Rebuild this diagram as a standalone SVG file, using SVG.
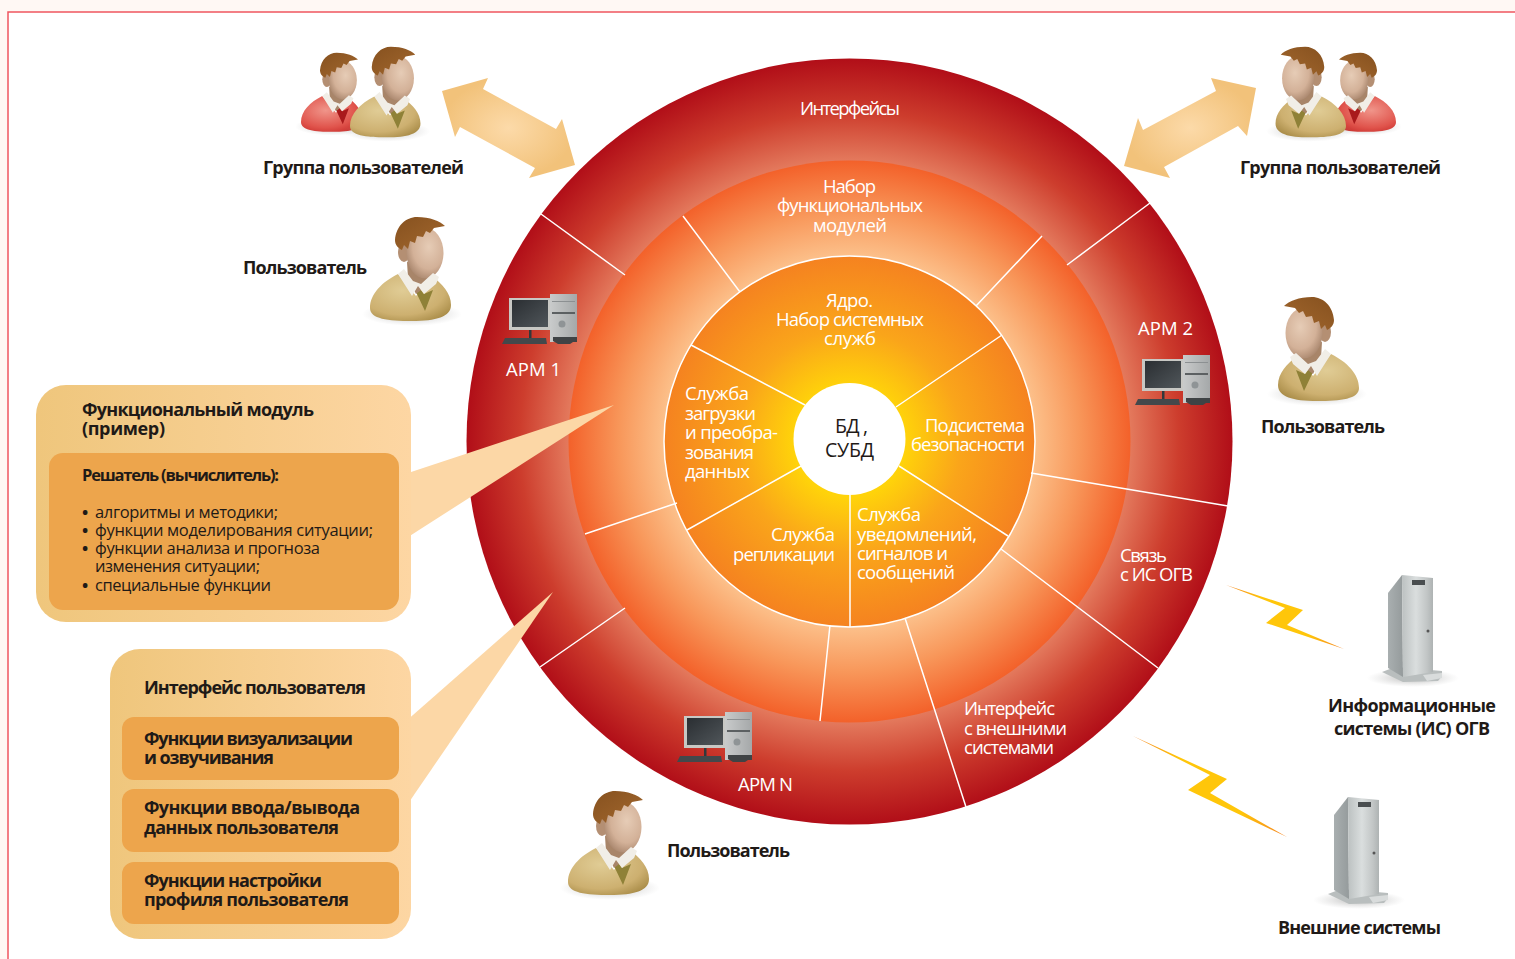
<svg xmlns="http://www.w3.org/2000/svg" width="1515" height="959" viewBox="0 0 1515 959">
<style>
text{font-family:"Open Sans","Noto Sans","Liberation Sans",sans-serif}
.w{fill:#fff;font-size:18.5px}
.k{fill:#1f1a17;font-weight:700;font-size:18px}
.t{fill:#1f1a17;font-size:16.5px}
.d{stroke:#fff;stroke-width:1.5;fill:none}
</style>
<defs>
<radialGradient id="gOuter" gradientUnits="userSpaceOnUse" cx="849.5" cy="441.5" r="383"><stop offset=".73" stop-color="#e47b5e"/><stop offset=".86" stop-color="#cd3d2d"/><stop offset="1" stop-color="#b10e18"/></radialGradient>
<radialGradient id="gMid" gradientUnits="userSpaceOnUse" cx="849.5" cy="441.5" r="281"><stop offset=".66" stop-color="#fcc08a"/><stop offset=".82" stop-color="#f8975a"/><stop offset="1" stop-color="#f3612a"/></radialGradient>
<radialGradient id="gIn" gradientUnits="userSpaceOnUse" cx="849.5" cy="441.5" r="186"><stop offset=".3" stop-color="#ffd30a"/><stop offset=".6" stop-color="#faa51a"/><stop offset="1" stop-color="#f58220"/></radialGradient>
<linearGradient id="gBox" x1="0" x2="1" y1="0" y2="0"><stop offset="0" stop-color="#efc67c"/><stop offset="1" stop-color="#fdd6a3"/></linearGradient>
<radialGradient id="gArrow"><stop offset="0" stop-color="#fcdaa9"/><stop offset="1" stop-color="#f2c27a"/></radialGradient>
<linearGradient id="gBolt" x1="0" x2="1" y1="0" y2="0"><stop offset="0" stop-color="#f58220"/><stop offset=".3" stop-color="#ffc60a"/><stop offset=".7" stop-color="#ffc60a"/><stop offset="1" stop-color="#f58220"/></linearGradient>
<radialGradient id="gFace" cx=".6" cy=".38" r=".72"><stop offset="0" stop-color="#e6ccb6"/><stop offset=".6" stop-color="#d3b198"/><stop offset="1" stop-color="#a07d64"/></radialGradient>
<linearGradient id="gHair" x1="0" x2="1" y1="0" y2="1"><stop offset="0" stop-color="#86511f"/><stop offset="1" stop-color="#a3682e"/></linearGradient>
<radialGradient id="gTan" cx=".4" cy=".35" r=".8"><stop offset="0" stop-color="#e0cc95"/><stop offset=".65" stop-color="#cdb070"/><stop offset="1" stop-color="#a1843f"/></radialGradient>
<radialGradient id="gRed" cx=".4" cy=".4" r=".8"><stop offset="0" stop-color="#f0958a"/><stop offset=".6" stop-color="#e0544c"/><stop offset="1" stop-color="#c0201f"/></radialGradient>
<radialGradient id="gShadow"><stop offset="0" stop-color="#7f7f7d" stop-opacity=".55"/><stop offset="1" stop-color="#aaa" stop-opacity="0"/></radialGradient>
<linearGradient id="gSrv" x1="0" x2="1" y1="0" y2="0"><stop offset="0" stop-color="#bcc1c1"/><stop offset=".45" stop-color="#dadede"/><stop offset=".8" stop-color="#c2c6c6"/><stop offset="1" stop-color="#aeb3b3"/></linearGradient>
<linearGradient id="gSide" x1="0" x2="1" y1="0" y2="0"><stop offset="0" stop-color="#a9afb0"/><stop offset="1" stop-color="#959b9c"/></linearGradient>
<linearGradient id="gTower" x1="0" x2="1" y1="0" y2="0"><stop offset="0" stop-color="#c9cbcb"/><stop offset="1" stop-color="#a5a8a9"/></linearGradient>
<linearGradient id="gScreen" x1="0" x2="1" y1="0" y2="1"><stop offset="0" stop-color="#2a2e32"/><stop offset="1" stop-color="#50565a"/></linearGradient>

<g id="head">
<path d="M37 46 L38 62 L46 78 L64 64 L64 50Z" fill="#a88569"/>
<ellipse cx="34" cy="36" rx="6" ry="10" fill="#b48f73"/>
<ellipse cx="55" cy="37" rx="18.5" ry="25.5" fill="url(#gFace)"/>
<path d="M25 24 C26 10 36 1 47 1 C60 1 70 5 75 10 L64 12 L60 17 L56 15 L53 21 L47 20 L45 27 L40 25 L38 33 L34 29 L32 34 C28 32 25 29 25 24Z" fill="url(#gHair)"/>
</g>
<g id="collar"><path d="M34 53 L28 58 L42 80 L48 70 L54 78 L66 68 L69 61 L63 57 L51 68 L43 65Z" fill="#f1eee7"/></g>
<g id="person">
<ellipse cx="42" cy="98" rx="50" ry="12" fill="url(#gShadow)"/>
<path d="M28 58 C12 66 0 78 0 92 C0 103 18 105 42 105 C66 105 81 101 81 89 C81 77 72 68 62 60 L46 80Z" fill="url(#gTan)"/>
<path d="M46 76 L55 95 L63 74 L54 78 L48 70Z" fill="#8f8137"/>
<use href="#head"/><use href="#collar"/>
</g>
<g id="personRed">
<ellipse cx="42" cy="98" rx="50" ry="12" fill="url(#gShadow)"/>
<path d="M28 58 C12 66 0 78 0 92 C0 103 18 105 42 105 C66 105 81 101 81 89 C81 77 72 68 62 60 L46 80Z" fill="url(#gRed)"/>
<path d="M46 76 L55 95 L63 74 L54 78 L48 70Z" fill="#a91a1c"/>
<use href="#head"/><use href="#collar"/>
</g>
<g id="pc">
<rect x="9" y="3" width="41" height="32" fill="#c8c8c4"/>
<rect x="12" y="5" width="36" height="27" fill="url(#gScreen)"/>
<rect x="29" y="35" width="2.5" height="8" fill="#33383b"/>
<rect x="50" y="-1" width="27" height="48" fill="url(#gTower)"/>
<rect x="52" y="17" width="23" height="2" fill="#5c6062"/>
<rect x="52" y="6" width="23" height="1" fill="#8c9092"/>
<circle cx="62" cy="29" r="3.5" fill="#8f9496"/>
<path d="M53 42 H77 V47 H73 L70 49 H58 L53 46Z" fill="#3f4345"/>
<path d="M5 43 L46 43 L47 49 L2 49Z" fill="#43484b"/>
</g>
<g id="server">
<ellipse cx="26" cy="103" rx="46" ry="9" fill="url(#gShadow)"/>
<path d="M-5 97 L8 92 L55 96 L55 101 L51 106 L16 107Z" fill="#b9bebe"/>
<path d="M1 18 L15 0 L16 102 L1 93Z" fill="url(#gSide)"/>
<path d="M15 0 L46 3 L46 97 L16 102Z" fill="url(#gSrv)"/>
<rect x="25" y="5" width="13" height="5" fill="#4a4e50"/>
<circle cx="41" cy="56" r="1.5" fill="#555"/>
<path d="M36 100 L55 98 L55 103 L40 106Z" fill="#d9dcdc"/>
</g>
</defs>
<rect width="1515" height="959" fill="#fff8f4"/>
<rect x="8" y="12" width="1507" height="947" fill="#fff"/>
<path d="M8 959V12H1515" fill="none" stroke="#f0565f" stroke-width="1.5"/>

<g id="disc">
<circle cx="849.5" cy="441.5" r="383" fill="url(#gOuter)"/>
<circle cx="849.5" cy="441.5" r="281" fill="url(#gMid)"/>
<circle cx="849.5" cy="441.5" r="185.5" fill="url(#gIn)" stroke="#fff" stroke-width="1.5"/>
<path class="d" d="M541 214L625 275M1150 203L1067 265M1228 506L1031 473M1158 668L1001 549M966 807L905 618M540 667L625 608M683 216L740 292M1042 236L976 306M820 721L830 625M677 503L585 534M691 345L805 405M1002 335L896 407M1008 536L899 466M687 530L801 466M850 495V627"/>
<circle cx="849.5" cy="439" r="56" fill="#fff"/>
</g>

<g id="connectors">
<path d="M442 91L488 78L483 89L556 129L562 119L575 165L529 178L535 168L460 127L455 137Z" fill="url(#gArrow)"/>
<path d="M1256 88L1211 78L1216 91L1143 130L1138 118L1124 166L1170 178L1164 167L1238 126L1247 136Z" fill="url(#gArrow)"/>
<path d="M1226 585L1303 610L1287 625L1344 649L1266 623L1285 608Z" fill="url(#gBolt)"/>
<path d="M1133 736L1227 779L1210 793L1287 837L1188 790L1210 775Z" fill="url(#gBolt)"/>
<path d="M405 474L614 405L405 539Z" fill="#fcd7a6"/>
<path d="M405 722L553 592L405 808Z" fill="#fcd7a6"/>
</g>

<g id="disc-labels">
<text class="w" x="800" y="115" textLength="100">Интерфейсы</text>
<text class="w" x="823" y="193" textLength="53">Набор</text>
<text class="w" x="777" y="212" textLength="146">функциональных</text>
<text class="w" x="813" y="232" textLength="74">модулей</text>
<text class="w" x="826" y="307" textLength="47">Ядро.</text>
<text class="w" x="776" y="326" textLength="148">Набор системных</text>
<text class="w" x="824" y="345" textLength="52">служб</text>
<text class="w" x="685" y="400" textLength="64">Служба</text>
<text class="w" x="685" y="420" textLength="71">загрузки</text>
<text class="w" x="685" y="439" textLength="93">и преобра-</text>
<text class="w" x="685" y="459" textLength="69">зования</text>
<text class="w" x="685" y="478" textLength="65">данных</text>
<text class="w" x="925" y="432" textLength="100">Подсистема</text>
<text class="w" x="911" y="451" textLength="114">безопасности</text>
<text class="w" x="771" y="541" textLength="64">Служба</text>
<text class="w" x="733" y="561" textLength="102">репликации</text>
<text class="w" x="857" y="521" textLength="64">Служба</text>
<text class="w" x="857" y="541" textLength="120">уведомлений,</text>
<text class="w" x="857" y="560" textLength="91">сигналов и</text>
<text class="w" x="857" y="579" textLength="98">сообщений</text>
<text class="w" x="964" y="715" textLength="91">Интерфейс</text>
<text class="w" x="964" y="735" textLength="103">с внешними</text>
<text class="w" x="964" y="754" textLength="90">системами</text>
<text class="w" x="1120" y="562" textLength="47">Связь</text>
<text class="w" x="1120" y="581" textLength="73">с ИС ОГВ</text>
<text x="835" y="433" textLength="33" style="fill:#1f1a17;font-size:19.5px">БД ,</text>
<text x="825" y="457" textLength="49" style="fill:#1f1a17;font-size:19.5px">СУБД</text>
</g>

<g id="arm-1"><use href="#pc" x="500" y="295"/><text class="w" x="506" y="376" textLength="55">АРМ 1</text></g>
<g id="arm-2"><use href="#pc" x="1133" y="356"/><text class="w" x="1138" y="335" textLength="55">АРМ 2</text></g>
<g id="arm-n"><use href="#pc" x="675" y="713"/><text class="w" x="738" y="791" textLength="55">АРМ N</text></g>

<g id="group-left">
<use href="#personRed" transform="translate(301 52) scale(.76)"/>
<use href="#person" transform="translate(350 46) scale(.87)"/>
<text class="k" x="263" y="174" textLength="201">Группа пользователей</text>
</g>
<g id="group-right">
<use href="#personRed" transform="translate(1396 52) scale(-.76 .76)"/>
<use href="#person" transform="translate(1346 46) scale(-.87 .87)"/>
<text class="k" x="1240" y="174" textLength="201">Группа пользователей</text>
</g>
<g id="user-1"><use href="#person" x="370" y="216"/><text class="k" x="243" y="274" textLength="124">Пользователь</text></g>
<g id="user-2"><use href="#person" transform="translate(1359 296) scale(-1 1)"/><text class="k" x="1261" y="433" textLength="124">Пользователь</text></g>
<g id="user-3"><use href="#person" x="568" y="790"/><text class="k" x="667" y="857" textLength="123">Пользователь</text></g>

<g id="is-ogv"><use href="#server" x="1387" y="575"/>
<text class="k" x="1328" y="712" textLength="168">Информационные</text>
<text class="k" x="1334" y="735" textLength="156">системы (ИС) ОГВ</text></g>
<g id="ext-sys"><use href="#server" x="1333" y="797"/>
<text class="k" x="1278" y="934" textLength="163">Внешние системы</text></g>

<g id="module-box">
<rect x="36" y="385" width="375" height="237" rx="30" fill="url(#gBox)"/>
<rect x="49" y="453" width="350" height="157" rx="14" fill="#eda54c"/>
<text class="k" x="82" y="416" textLength="232">Функциональный модуль</text>
<text class="k" x="82" y="435" textLength="83">(пример)</text>
<text class="t" x="82" y="481" textLength="197" style="font-weight:700">Решатель (вычислитель):</text>
<text class="t" y="518"><tspan x="82" font-weight="700">• </tspan><tspan x="95" textLength="183">алгоритмы и методики;</tspan></text>
<text class="t" y="536"><tspan x="82" font-weight="700">• </tspan><tspan x="95" textLength="278">функции моделирования ситуации;</tspan></text>
<text class="t" y="554"><tspan x="82" font-weight="700">• </tspan><tspan x="95" textLength="225">функции анализа и прогноза</tspan></text>
<text class="t" x="95" y="572" textLength="165">изменения ситуации;</text>
<text class="t" y="591"><tspan x="82" font-weight="700">• </tspan><tspan x="95" textLength="176">специальные функции</tspan></text>
</g>
<g id="ui-box">
<rect x="110" y="649" width="301" height="290" rx="30" fill="url(#gBox)"/>
<rect x="122" y="717" width="277" height="63" rx="12" fill="#eda54c"/>
<rect x="122" y="789" width="277" height="63" rx="12" fill="#eda54c"/>
<rect x="122" y="862" width="277" height="62" rx="12" fill="#eda54c"/>
<text class="k" x="144" y="694" textLength="222">Интерфейс пользователя</text>
<text class="k" x="144" y="745" textLength="209">Функции визуализации</text>
<text class="k" x="144" y="764" textLength="130">и озвучивания</text>
<text class="k" x="144" y="814" textLength="216">Функции ввода/вывода</text>
<text class="k" x="144" y="834" textLength="195">данных пользователя</text>
<text class="k" x="144" y="887" textLength="178">Функции настройки</text>
<text class="k" x="144" y="906" textLength="205">профиля пользователя</text>
</g>
</svg>
